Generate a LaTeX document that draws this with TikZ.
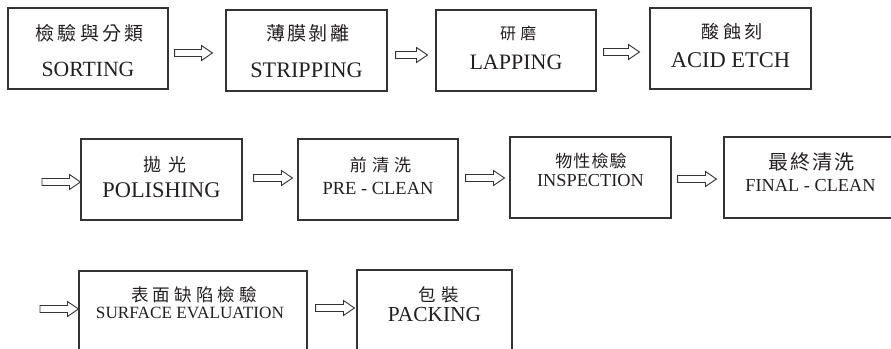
\documentclass[tikz,border=0pt]{standalone}
\usepackage{fontspec}
\setmainfont{Liberation Serif}
\newfontfamily\zhfont{Noto Sans CJK TC}
\usetikzlibrary{calc}
\definecolor{ink}{HTML}{231F20}
\definecolor{edge}{HTML}{333333}
\tikzset{
  box/.style={draw=edge, line width=1.1pt, rectangle, inner sep=0pt},
  en/.style={inner sep=0pt, text=ink, font=\fontsize{#1}{#1}\selectfont},
  zh/.style 2 args={inner sep=0pt, text=ink, xshift={#1*#2/200},
    font=\zhfont\fontsize{#1}{#1}\selectfont\addfontfeature{LetterSpace=#2}},
  blk/.style={draw=edge, line width=0.9pt, fill=white,
    to path={let \p1=(\tikztostart), \p2=(\tikztotarget) in
      (\x1,\y1+3.5pt) -- (\x2-11pt,\y1+3.5pt) -- (\x2-11pt,\y1+7.5pt) -- (\x2,\y1)
      -- (\x2-11pt,\y1-7.5pt) -- (\x2-11pt,\y1-3.5pt) -- (\x1,\y1-3.5pt) -- cycle}}
}
\begin{document}
\begin{tikzpicture}[x=1pt,y=-1pt]
\useasboundingbox (0,0) rectangle (891,348);
\clip (0,0) rectangle (891,348);
% boxes
\node[box, minimum width=160pt, minimum height=81pt] (s1) at (88,48.5) {};
\node[box, minimum width=161pt, minimum height=81pt] (s2) at (306.5,50.5) {};
\node[box, minimum width=160pt, minimum height=81pt] (s3) at (516,50.5) {};
\node[box, minimum width=161pt, minimum height=81pt] (s4) at (730.5,48.5) {};
\node[box, minimum width=161pt, minimum height=81pt] (s5) at (161.5,179.5) {};
\node[box, minimum width=160pt, minimum height=81pt] (s6) at (378,179.5) {};
\node[box, minimum width=161pt, minimum height=81pt] (s7) at (590.5,177.5) {};
\node[box, minimum width=173pt, minimum height=81pt] (s8) at (810.5,177.5) {};
\node[box, minimum width=228pt, minimum height=81pt] (s9) at (193,311.5) {};
\node[box, minimum width=155pt, minimum height=81pt] (s10) at (434.5,310.5) {};
% texts
\node[zh={19}{17}] (z1) at (88,33) {檢驗與分類};
\node[en=21.7] (e1) at (88,69) {SORTING};
\node[zh={19}{12}] (z2) at (306.5,33) {薄膜剝離};
\node[en=22.2] (e2) at (306.5,70) {STRIPPING};
\node[zh={16}{28}] (z3) at (516,33) {研磨};
\node[en=22] (e3) at (516,62) {LAPPING};
\node[zh={18}{17}] (z4) at (730.5,32) {酸蝕刻};
\node[en=22.5] (e4) at (730.5,60) {ACID ETCH};
\node[zh={18}{40}] (z5) at (161.5,165) {拋光};
\node[en=22.4] (e5) at (161.5,190) {POLISHING};
\node[zh={17}{30}] (z6) at (378,165) {前清洗};
\node[en=18.5] (e6) at (378,188) {PRE - CLEAN};
\node[zh={17}{6}] (z7) at (590.5,161) {物性檢驗};
\node[en=18.3] (e7) at (590.5,181) {INSPECTION};
\node[zh={20}{10}] (z8) at (810.5,162) {最終清洗};
\node[en=18.3] (e8) at (810.5,186) {FINAL - CLEAN};
\node[zh={17.5}{23}] (z9) at (192,295) {表面缺陷檢驗};
\node[en=17.2] (e9) at (190,313) {SURFACE EVALUATION};
\node[zh={17.5}{30}] (z10) at (436,295) {包裝};
\node[en=21.4] (e10) at (434.5,315) {PACKING};
% free starts
\coordinate (c4) at (42,182);
\coordinate (c8) at (40,309);
% arrows
\draw[blk] ($(s1.east)+(6,4.5)$) to ($(s2.west)+(-13,2.5)$);
\draw[blk] ($(s2.east)+(8,4.5)$) to ($(s3.west)+(-8,4.5)$);
\draw[blk] ($(s3.east)+(7,1.5)$) to ($(s4.west)+(-10,3.5)$);
\draw[blk] (c4) to ($(s5.west)+(0,2.5)$);
\draw[blk] ($(s5.east)+(11,-1.5)$) to ($(s6.west)+(-5,-1.5)$);
\draw[blk] ($(s6.east)+(7,-1.5)$) to ($(s7.west)+(-5,0.5)$);
\draw[blk] ($(s7.east)+(6,1.5)$) to ($(s8.west)+(-7,1.5)$);
\draw[blk] (c8) to ($(s9.west)+(0,-2.5)$);
\draw[blk] ($(s9.east)+(8,-3.5)$) to ($(s10.west)+(-2,-2.5)$);
\end{tikzpicture}
\end{document}
